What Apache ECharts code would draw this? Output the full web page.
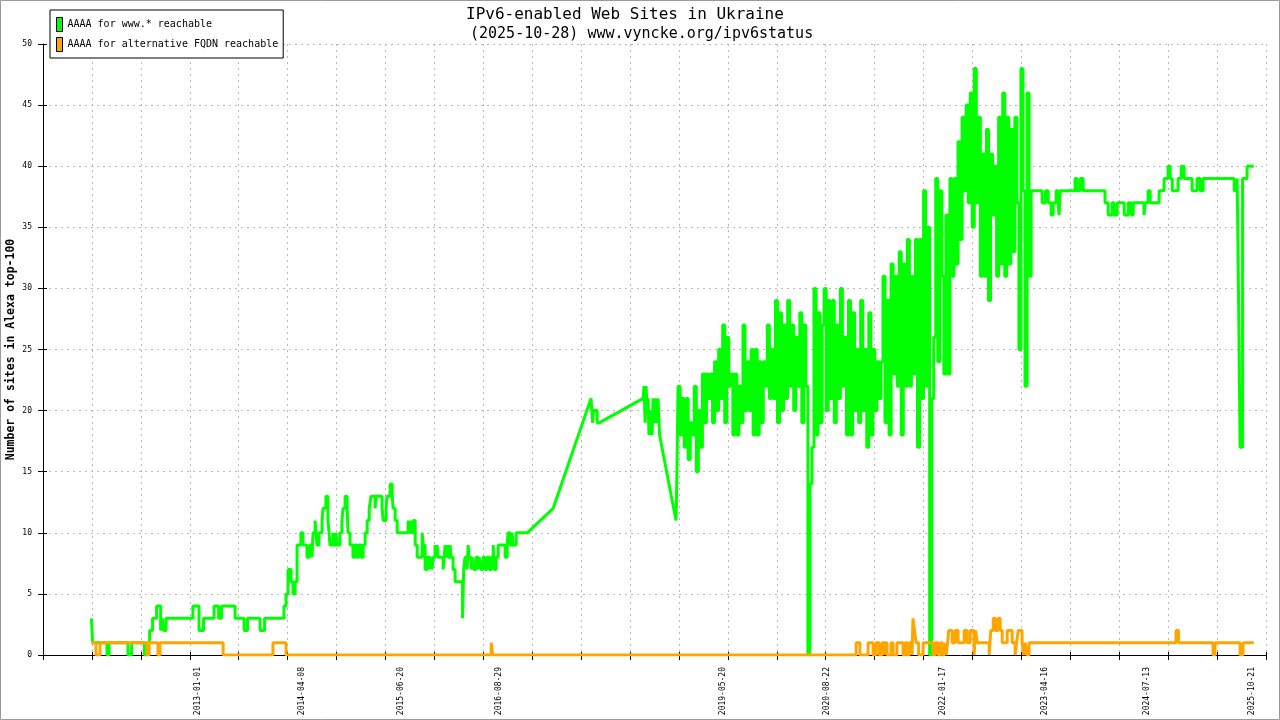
<!DOCTYPE html>
<html>
<head>
<meta charset="utf-8">
<script src="https://cdn.jsdelivr.net/npm/echarts@6/dist/echarts.min.js"></script>
<style>
html,body{margin:0;padding:0;background:#fff;}
#c{width:1280px;height:720px;}
</style>
</head>
<body>
<div id="c"></div>
<script>
// ---------- texts ----------
const titleLines = ['IPv6-enabled Web Sites in Ukraine', '(2025-10-28) www.vyncke.org/ipv6status'];
const seriesNames = ['AAAA for www.* reachable', 'AAAA for alternative FQDN reachable'];
const yAxisName = 'Number of sites in Alexa top-100';

// ---------- axes ----------
const xTickLabels = ['2013-01-01', '2014-04-08', '2015-06-20', '2016-08-29', '2019-05-20',
  '2020-08-22', '2022-01-17', '2023-04-16', '2024-07-13', '2025-10-21'];
const axisStartDate = '2011-02-13';
const axisTickDays = 217;
const axisTickCount = 25;
const yMin = 0, yMax = 50, yStep = 5;

// ---------- "AAAA for www.* reachable" (value changes, held until next change) ----------
const wwwRunDates = ['2011-09-16','2011-09-21','2011-11-24','2011-12-03','2012-02-25','2012-03-12','2012-05-08','2012-05-22','2012-05-31','2012-06-13',
 '2012-07-01','2012-07-19','2012-07-27','2012-08-01','2012-08-12','2012-12-09','2013-01-05','2013-01-25','2013-03-13','2013-04-02',
 '2013-04-15','2013-06-14','2013-07-24','2013-08-08','2013-10-03','2013-10-23','2014-01-17','2014-01-26','2014-02-04','2014-02-17',
 '2014-02-26','2014-03-07','2014-03-16','2014-04-02','2014-04-11','2014-04-29','2014-05-12','2014-05-21','2014-05-26','2014-06-04',
 '2014-06-12','2014-06-21','2014-07-05','2014-07-09','2014-07-22','2014-07-31','2014-08-05','2014-08-09','2014-08-22','2014-08-27',
 '2014-09-05','2014-09-09','2014-09-22','2014-10-01','2014-10-06','2014-10-15','2014-10-24','2014-10-28','2014-11-06','2014-11-19',
 '2014-11-28','2014-12-07','2014-12-16','2014-12-25','2015-01-03','2015-01-12','2015-01-21','2015-01-30','2015-02-07','2015-02-25',
 '2015-03-02','2015-03-28','2015-04-02','2015-04-15','2015-04-19','2015-05-03','2015-05-12','2015-05-16','2015-05-25','2015-06-03',
 '2015-07-22','2015-07-26','2015-07-30','2015-08-04','2015-08-13','2015-08-22','2015-08-31','2015-09-22','2015-09-26','2015-10-05',
 '2015-10-14','2015-10-27','2015-11-01','2015-11-05','2015-11-09','2015-11-18','2015-11-23','2015-11-27','2015-12-02','2015-12-24',
 '2015-12-28','2016-01-02','2016-01-06','2016-01-11','2016-01-15','2016-01-24','2016-01-28','2016-02-06','2016-02-15','2016-03-19',
 '2016-03-24','2016-03-30','2016-04-08','2016-04-13','2016-04-17','2016-04-26','2016-05-01','2016-05-09','2016-05-18','2016-05-27',
 '2016-06-01','2016-06-09','2016-06-18','2016-06-27','2016-07-06','2016-07-15','2016-07-24','2016-08-02','2016-08-06','2016-08-15',
 '2016-08-24','2016-09-24','2016-10-03','2016-10-07','2016-10-16','2016-10-25','2016-10-29','2016-11-12','2016-12-31','2017-04-25',
 '2017-10-10','2017-10-17','2017-10-21','2017-11-06','2017-11-15','2018-05-29','2018-06-02','2018-06-07','2018-06-11','2018-06-16',
 '2018-06-20','2018-06-24','2018-06-29','2018-07-03','2018-07-08','2018-07-12','2018-07-17','2018-07-21','2018-07-26','2018-07-30',
 '2018-08-03','2018-08-10','2018-10-22','2018-10-26'];
const wwwRunValues = [3,1,0,1,0,1,0,1,2,3,
 4,2,3,2,3,4,2,3,4,3,
 4,3,2,3,2,3,4,5,7,6,
 5,6,9,10,9,8,9,8,10,11,
 9,10,11,12,13,11,10,9,10,9,
 10,9,10,11,12,13,12,10,9,8,
 9,8,9,8,9,10,11,12,13,12,
 13,12,11,12,13,14,13,12,11,10,
 11,10,11,10,11,9,8,10,9,7,
 8,7,8,7,8,9,8,9,8,7,
 8,9,8,9,8,9,8,7,6,3,
 7,8,7,9,8,7,8,7,8,7,
 8,7,8,7,8,7,8,9,7,8,
 9,8,9,10,9,10,9,10,10,12,
 21,19,20,19,19,21,22,19,22,20,
 21,18,20,19,18,21,19,20,21,19,
 21,18,11,15];
// dates with no measurements after them (line goes straight to the next one)
const wwwGapAfter = ['2016-12-31', '2017-04-25', '2017-11-15', '2018-08-10'];

// dense, very noisy period: readings every 9 days
const wwwDenseStart = '2018-10-31';
const wwwDenseStepDays = 9;
const wwwDenseValues = [22,18,21,17,21,16,19,18,22,15,
 20,17,23,19,23,21,23,19,24,20,
 25,21,27,19,26,22,23,18,23,18,
 22,19,27,20,24,20,25,18,25,18,
 24,19,24,22,27,21,25,21,29,19,
 28,20,27,21,29,22,27,20,26,22,
 28,19,27,22,0,14,17,30,18,28,
 19,27,30,20,29,21,29,19,27,21,
 30,22,26,18,29,18,28,20,25,19,
 29,20,25,17,28,18,25,20,24,21,
 24,31,19,29,18,32,23,31,22,33,
 18,32,22,34,22,31,23,34,17,34,
 21,38,22,35,0,21,26,39,24,38,
 31,23,36,23,39,31,39,32,42,34,
 44,38,45,37,46,35,48,37,44,31,
 41,31,43,29,41,36,40,31,44,32,
 46,31,44,32,43,33,44,37,25,48,
 38,22,46,31,38];

const wwwTailDates = ['2023-04-03','2023-04-18','2023-04-30','2023-05-13','2023-05-22','2023-06-04','2023-06-13','2023-06-17','2023-06-22','2023-08-27',
 '2023-09-05','2023-09-19','2023-10-02','2024-01-07','2024-01-21','2024-02-07','2024-02-16','2024-03-01','2024-04-01','2024-04-19',
 '2024-05-02','2024-05-11','2024-06-28','2024-07-03','2024-07-16','2024-07-25','2024-09-03','2024-09-25','2024-10-13','2024-10-22',
 '2024-10-31','2024-11-26','2024-12-10','2024-12-23','2025-01-27','2025-02-18','2025-03-04','2025-03-17','2025-08-02','2025-08-15',
 '2025-08-22','2025-08-28','2025-09-08','2025-09-28','2025-10-28'];
const wwwTailValues = [37,38,37,36,37,38,37,36,38,39,
 38,39,38,37,36,37,36,37,36,37,
 36,37,36,37,38,37,38,39,40,39,
 38,39,40,39,38,39,38,39,38,39,
 28,17,39,40,40];

// ---------- "AAAA for alternative FQDN reachable" ----------
const altRunDates = ['2011-09-16','2011-10-06','2011-10-24','2012-05-20','2012-05-29','2012-07-07','2012-07-16','2013-04-22','2013-11-29','2014-01-26',
 '2016-07-24','2016-07-31','2020-12-29','2021-01-15','2021-02-20','2021-03-14','2021-03-27','2021-04-10','2021-04-23','2021-05-02',
 '2021-05-06','2021-05-15','2021-06-02','2021-06-11','2021-06-28','2021-07-25','2021-08-03','2021-08-12','2021-08-21','2021-09-03',
 '2021-09-07','2021-09-14','2021-09-21','2021-10-02','2021-10-22','2021-12-05','2021-12-14','2021-12-27','2022-01-06','2022-01-15',
 '2022-01-24','2022-02-01','2022-02-08','2022-02-12','2022-02-28','2022-03-13','2022-03-26','2022-04-22','2022-05-05','2022-05-19',
 '2022-06-05','2022-06-12','2022-06-19','2022-08-11','2022-08-18','2022-08-29','2022-09-07','2022-09-20','2022-09-29','2022-10-08',
 '2022-10-30','2022-11-21','2022-12-04','2022-12-11','2022-12-18','2023-01-04','2023-01-11','2023-01-18','2023-01-26','2023-02-04',
 '2024-11-17','2024-11-28','2025-04-30','2025-05-09','2025-08-28','2025-09-10','2025-10-28'];
const altRunValues = [1,0,1,0,1,0,1,0,1,0,
 1,0,1,0,1,0,1,0,1,0,
 1,0,1,0,1,0,1,0,1,0,
 3,2,1,0,1,0,1,0,1,0,
 1,0,1,2,1,2,1,2,1,2,
 0,2,1,0,2,3,2,3,2,1,
 2,1,0,1,2,1,0,1,0,1,
 2,1,0,1,0,1,1];

// ---------- build ----------
const DAY = 86400000;
const t0 = Date.parse(axisStartDate);
const toX = d => (Date.parse(d) - t0) / DAY;
const fmt = x => new Date(t0 + Math.round(x) * DAY).toISOString().slice(0, 10);

function holdSteps(runs, gapSet) {
  const pts = [];
  for (let i = 0; i < runs.length; i++) {
    const [x, v] = runs[i];
    pts.push([x, v]);
    if (i + 1 < runs.length && !gapSet.has(x)) pts.push([runs[i + 1][0], v]);
  }
  return pts;
}

const wwwRuns = [];
wwwRunDates.forEach((d, i) => wwwRuns.push([toX(d), wwwRunValues[i]]));
const dx0 = toX(wwwDenseStart);
wwwDenseValues.forEach((v, i) => wwwRuns.push([dx0 + i * wwwDenseStepDays, v]));
wwwTailDates.forEach((d, i) => wwwRuns.push([toX(d), wwwTailValues[i]]));
const wwwPts = holdSteps(wwwRuns, new Set(wwwGapAfter.map(toX)));

const altRuns = altRunDates.map((d, i) => [toX(d), altRunValues[i]]);
const altPts = holdSteps(altRuns, new Set());

const mono = 'DejaVu Sans Mono';
const xMax = axisTickDays * axisTickCount;
const gridLine = { show: true, lineStyle: { color: '#b8b8b8', width: 1, type: [2, 4] } };

const chart = echarts.init(document.getElementById('c'), null, { renderer: 'canvas' });
chart.setOption({
  animation: false,
  backgroundColor: '#fff',
  title: [{
    text: titleLines[0], left: 466, top: 7, padding: 0,
    textStyle: { fontFamily: mono, fontSize: 16, fontWeight: 'normal', color: '#000' }
  }, {
    text: titleLines[1], left: 470, top: 27, padding: 0,
    textStyle: { fontFamily: mono, fontSize: 15, fontWeight: 'normal', color: '#000' }
  }],
  legend: {
    orient: 'vertical', left: 50, top: 10, itemWidth: 6, itemHeight: 14, itemGap: 5,
    padding: [7, 5, 6, 6], backgroundColor: '#fff', borderColor: '#000', borderWidth: 1,
    icon: 'rect', itemStyle: { borderColor: '#000', borderWidth: 1 },
    textStyle: { fontFamily: mono, fontSize: 10, color: '#000' },
    data: seriesNames
  },
  grid: { left: 43, right: 14, top: 44, bottom: 65, containLabel: false, outerBoundsMode: 'none' },
  xAxis: [{
    type: 'value', min: 0, max: xMax, interval: axisTickDays,
    axisLine: { show: true, lineStyle: { color: '#000', width: 1 } },
    axisTick: { show: true, length: 5, lineStyle: { color: '#000' } },
    axisLabel: { customValues: xTickLabels.map(toX), formatter: v => fmt(v), rotate: 90, margin: 12,
      fontFamily: mono, fontSize: 8, color: '#000' },
    splitLine: gridLine
  }, {
    type: 'value', min: 0, max: xMax, interval: axisTickDays, position: 'bottom',
    axisLine: { show: false }, axisLabel: { show: false }, splitLine: { show: false },
    axisTick: { show: true, inside: true, length: 3, lineStyle: { color: '#000' } }
  }],
  yAxis: [{
    type: 'value', min: yMin, max: yMax, interval: yStep,
    name: yAxisName, nameLocation: 'middle', nameGap: 26, nameMoveOverlap: false,
    nameTextStyle: { fontFamily: mono, fontSize: 11.5, fontWeight: 'bold', color: '#000' },
    axisLine: { show: true, lineStyle: { color: '#000', width: 1 } },
    axisTick: { show: true, length: 5, lineStyle: { color: '#000' } },
    axisLabel: { margin: 11, fontFamily: mono, fontSize: 8, color: '#000' },
    splitLine: gridLine
  }, {
    type: 'value', min: yMin, max: yMax, interval: yStep, position: 'left',
    axisLine: { show: false }, axisLabel: { show: false }, splitLine: { show: false },
    axisTick: { show: true, inside: true, length: 4, lineStyle: { color: '#000' } }
  }],
  graphic: [{
    type: 'rect', silent: true, z: 100,
    shape: { x: 0.5, y: 0.5, width: 1279, height: 719 },
    style: { fill: 'none', stroke: '#9a9a9a', lineWidth: 1 }
  }],
  series: [{
    name: seriesNames[0], type: 'line', data: wwwPts, xAxisIndex: 0, yAxisIndex: 0,
    symbol: 'none', showSymbol: false,
    lineStyle: { color: '#00ff00', width: 3 }, itemStyle: { color: '#00ff00' }, z: 2
  }, {
    name: seriesNames[1], type: 'line', data: altPts, xAxisIndex: 0, yAxisIndex: 0,
    symbol: 'none', showSymbol: false,
    lineStyle: { color: '#ffa500', width: 3 }, itemStyle: { color: '#ffa500' }, z: 3
  }]
});
</script>
</body>
</html>
